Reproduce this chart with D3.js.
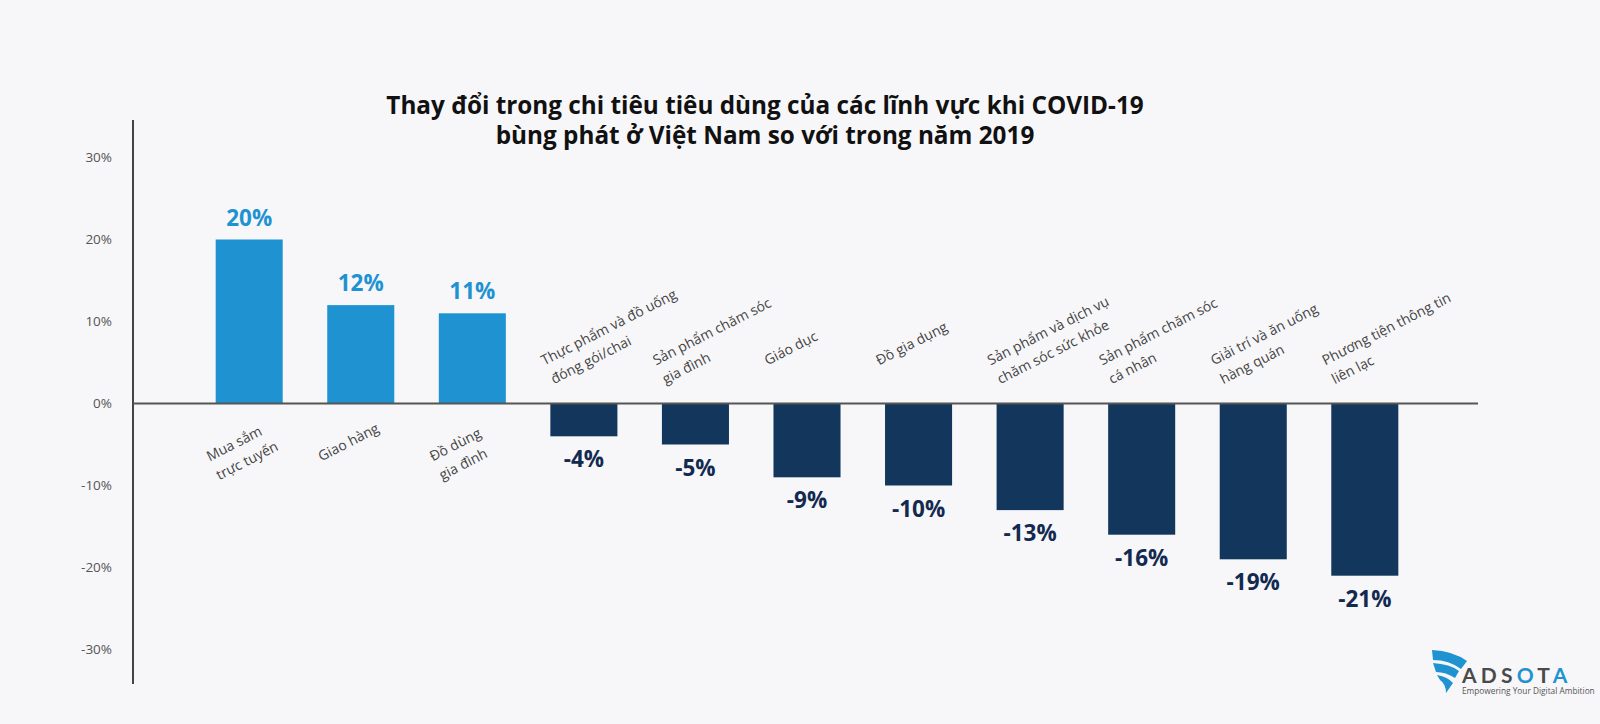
<!DOCTYPE html>
<html>
<head>
<meta charset="utf-8">
<script src="https://cdn.jsdelivr.net/npm/d3@7"></script>
<style>
  html, body { margin: 0; padding: 0; background: #f7f7f9; }
  svg { display: block; }
</style>
</head>
<body>
<svg id="chart" width="1600" height="724"></svg>
<script>
// ---- Data ----
const titleLines = [
  "Thay đổi trong chi tiêu tiêu dùng của các lĩnh vực khi COVID-19",
  "bùng phát ở Việt Nam so với trong năm 2019"
];
const categories = [
  "Mua sắm\ntrực tuyến",
  "Giao hàng",
  "Đồ dùng\ngia đình",
  "Thực phẩm và đồ uống\nđóng gói/chai",
  "Sản phẩm chăm sóc\ngia đình",
  "Giáo dục",
  "Đồ gia dụng",
  "Sản phẩm và dịch vụ\nchăm sóc sức khỏe",
  "Sản phẩm chăm sóc\ncá nhân",
  "Giải trí và ăn uống\nhàng quán",
  "Phương tiện thông tin\nliên lạc"
];
const values = [20, 12, 11, -4, -5, -9, -10, -13, -16, -19, -21];
const yTicks = [-30, -20, -10, 0, 10, 20, 30];
const yTickLabels = ["-30%", "-20%", "-10%", "0%", "10%", "20%", "30%"];

// ---- Style ----
const posColor = "#1f93d2";
const negColor = "#12365c";
const negLabelColor = "#132a50";
const font = "'Open Sans', 'Noto Sans', sans-serif";

const svg = d3.select("#chart");

const x = d3.scaleBand()
  .domain(categories)
  .range([130, 1484])
  .paddingInner(0.399)
  .paddingOuter(0.768);

const y = d3.scaleLinear()
  .domain([-30, 30])
  .range([649.5, 157.5]);

// Title (two separate text lines)
svg.append("g").selectAll("text")
  .data(titleLines)
  .join("text")
  .attr("x", 765)
  .attr("y", (d, i) => 114 + i * 30)
  .attr("text-anchor", "middle")
  .attr("font-family", font)
  .attr("font-weight", 700)
  .attr("font-size", 24.3)
  .attr("fill", "#111")
  .text(d => d);

// Y axis
const yAxis = d3.axisLeft(y)
  .tickValues(yTicks)
  .tickFormat(d => yTickLabels[yTicks.indexOf(d)])
  .tickSize(0)
  .tickPadding(21);
const gy = svg.append("g").attr("transform", "translate(133,0)").call(yAxis);
gy.select(".domain").remove();
gy.selectAll("text")
  .attr("font-family", font)
  .attr("font-size", 13.5)
  .attr("fill", "#555");

svg.append("line")
  .attr("x1", 133).attr("x2", 133)
  .attr("y1", 120).attr("y2", 684)
  .attr("stroke", "#444").attr("stroke-width", 2);

// Bars
const data = categories.map((c, i) => ({ c, v: values[i] }));
svg.append("g").selectAll("rect")
  .data(data)
  .join("rect")
  .attr("x", d => x(d.c))
  .attr("width", x.bandwidth())
  .attr("y", d => d.v >= 0 ? y(d.v) : y(0))
  .attr("height", d => Math.abs(y(d.v) - y(0)))
  .attr("fill", d => d.v >= 0 ? posColor : negColor);

// Zero line
svg.append("line")
  .attr("x1", 133).attr("x2", 1478)
  .attr("y1", y(0)).attr("y2", y(0))
  .attr("stroke", "#555").attr("stroke-width", 2);

// Value labels
svg.append("g").selectAll("text")
  .data(data)
  .join("text")
  .attr("x", d => x(d.c) + x.bandwidth() / 2)
  .attr("y", d => d.v >= 0 ? y(d.v) - 14 : y(d.v) + 31)
  .attr("text-anchor", "middle")
  .attr("font-family", font)
  .attr("font-weight", 700)
  .attr("font-size", 22.5)
  .attr("fill", d => d.v >= 0 ? posColor : negLabelColor)
  .text(d => d.v + "%");

// Category labels (rotated)
const angle = -27;
const cl = svg.append("g").selectAll("text")
  .data(data)
  .join("text")
  .attr("transform", d => {
    const px = x(d.c) - 6;
    const py = d.v >= 0 ? y(0) + 58 : y(0) - 38;
    return `translate(${px},${py}) rotate(${angle})`;
  })
  .attr("font-family", font)
  .attr("font-size", 14)
  .attr("fill", "#444");
cl.each(function(d) {
  const lines = d.c.split("\n");
  const t = d3.select(this);
  lines.forEach((ln, i) => {
    t.append("tspan").attr("x", 0).attr("y", i * 21).text(ln);
  });
});

// Logo
const logo = svg.append("g");
logo.append("path").attr("fill", posColor)
  .attr("d", "M1432,650 Q1453,651 1467,661 L1461,669 Q1449,660 1433,660 Z");
logo.append("path").attr("fill", posColor)
  .attr("d", "M1433,663 Q1450,664 1459,671 L1455,678 Q1446,672 1436,672 Z");
logo.append("path").attr("fill", posColor)
  .attr("d", "M1437,675 Q1448,677 1453,683 L1446,693 Q1446,684 1440,680 Z");
const lt = logo.append("text")
  .attr("x", 1462).attr("y", 683)
  .attr("font-family", "Lato, 'Open Sans', sans-serif")
  .attr("font-weight", 700)
  .attr("font-size", 21)
  .attr("letter-spacing", 4.2);
lt.append("tspan").attr("fill", "#4a4a4a").text("ADS");
lt.append("tspan").attr("fill", posColor).text("O");
lt.append("tspan").attr("fill", "#4a4a4a").text("T");
lt.append("tspan").attr("fill", posColor).text("A");
logo.append("text")
  .attr("x", 1462).attr("y", 694)
  .attr("font-family", "'Open Sans', sans-serif")
  .attr("font-size", 8.3)
  .attr("fill", "#555")
  .text("Empowering Your Digital Ambition");
</script>
</body>
</html>
